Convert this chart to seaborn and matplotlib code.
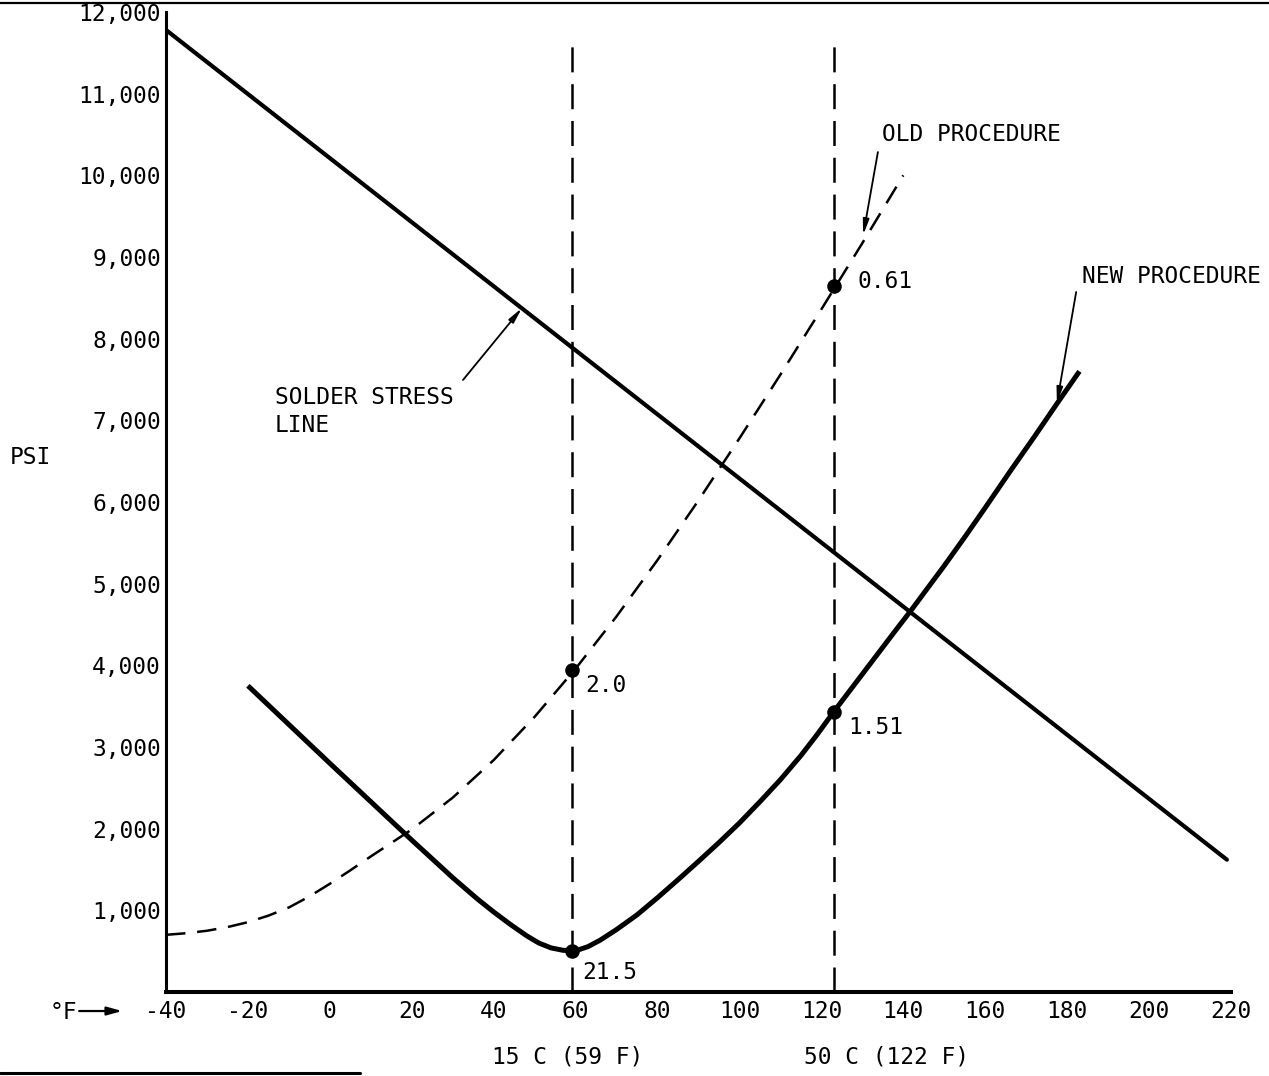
import matplotlib
matplotlib.use("Agg")
import matplotlib.pyplot as plt
import seaborn as sns
import pandas as pd
from matplotlib.lines import Line2D

# ---------------- data ----------------
stress_x = [-40, 219]
stress_y = [11780, 1620]

old_x = [-40, -35, -30, -25, -20, -15, -10, -5, 0, 5, 10, 20, 30, 40, 50, 60, 70, 80, 90,
         100, 110, 120, 130, 140]
old_y = [700, 720, 750, 795, 855, 935, 1035, 1170, 1325, 1490, 1660, 1990, 2380, 2840, 3370,
         3960, 4600, 5290, 6020, 6780, 7560, 8360, 9170, 10000]

new_x = [-20, 0, 20, 30, 36, 40, 44, 48, 51, 54, 57, 60, 63, 66, 70, 75, 80, 85, 90, 95, 100,
         105, 110, 115, 119, 123, 128, 133, 138, 142, 150, 155, 160, 166, 172, 178, 183]
new_y = [3750, 2800, 1860, 1400, 1140, 980, 830, 690, 600, 540, 510, 505, 555, 635, 765, 945,
         1155, 1375, 1600, 1830, 2070, 2330, 2600, 2895, 3155, 3430, 3760, 4090, 4420, 4680,
         5220, 5570, 5930, 6370, 6800, 7240, 7600]

ref_x = [59, 123]            # 15 C (59 F), 50 C (122 F)
ref_top = [11700, 11600]
ref_labels = ["15 C (59 F)", "50 C (122 F)"]

pt_x = [123, 59, 123, 59]
pt_y = [8650, 3940, 3430, 505]
pt_labels = ["0.61", "2.0", "1.51", "21.5"]

xticks = list(range(-40, 221, 20))
yticks = list(range(1000, 12001, 1000))
ytick_labels = [f"{v:,}" for v in yticks]

# ---------------- style ----------------
sns.set_style("white")
plt.rcParams["font.family"] = ["DejaVu Sans Mono", "DejaVu Sans"]
plt.rcParams["text.color"] = "black"
plt.rcParams["lines.scale_dashes"] = False
FS = 16.5

fig = plt.figure(figsize=(12.69, 10.76), dpi=100)
ax = fig.add_axes([166 / 1269, 1 - 992 / 1076, (1231 - 166) / 1269, (992 - 12) / 1076])

df_stress = pd.DataFrame({"x": stress_x, "y": stress_y})
df_old = pd.DataFrame({"x": old_x, "y": old_y})
df_new = pd.DataFrame({"x": new_x, "y": new_y})

sns.lineplot(data=df_stress, x="x", y="y", ax=ax, color="black", lw=3.0,
             estimator=None, sort=False)
sns.lineplot(data=df_old, x="x", y="y", ax=ax, color="black", lw=1.8,
             estimator=None, sort=False)
ax.lines[-1].set_dashes([14, 8.5])
sns.lineplot(data=df_new, x="x", y="y", ax=ax, color="black", lw=3.6,
             estimator=None, sort=False)
ax.lines[-1].set_solid_capstyle("butt")
ax.lines[-1].set_solid_joinstyle("round")

for xv, top in zip(ref_x, ref_top):
    ax.vlines(xv, 0, top, colors="black", lw=1.8, linestyles=(0, (18, 8.5)))

sns.scatterplot(x=pt_x, y=pt_y, ax=ax, color="black", s=110, edgecolor="black",
                linewidth=0, zorder=5)

TXT = dict(fontsize=FS, color="black")

# point labels
lab_pos = [(128.7, 8694), (62.3, 3759), (126.5, 3233), (61.6, 233)]
for (tx, ty), lab in zip(lab_pos, pt_labels):
    ax.text(tx, ty, lab, ha="left", va="center", **TXT)

arrow = dict(arrowstyle="-|>,head_length=0.9,head_width=0.18", color="black", lw=1.3,
             shrinkA=0, shrinkB=0)
ax.annotate("", xy=(46.9, 8375), xytext=(32.5, 7494), arrowprops=arrow)
ax.text(-13.4, 7420, "SOLDER STRESS\nLINE", ha="left", va="top", linespacing=1.25, **TXT)
ax.annotate("", xy=(130.2, 9269), xytext=(133.8, 10285), arrowprops=arrow)
ax.text(134.8, 10494, "OLD PROCEDURE", ha="left", va="center", **TXT)
ax.annotate("", xy=(177.5, 7212), xytext=(182.2, 8571), arrowprops=arrow,
            annotation_clip=False)
ax.text(183.6, 8767, "NEW PROCEDURE", ha="left", va="center", clip_on=False, **TXT)

# reference-temperature labels below the axis
ref_lab_x = [58.1, 136]
for tx, lab in zip(ref_lab_x, ref_labels):
    ax.text(tx, -796, lab, ha="center", va="center", clip_on=False, **TXT)

# axis annotations
ax.text(-73, 6539, "PSI", ha="center", va="center", clip_on=False, **TXT)
ax.text(-68.3, -245, "°F", ha="left", va="center", clip_on=False, **TXT)
ax.annotate("", xy=(-50.7, -233), xytext=(-61.2, -233), annotation_clip=False,
            arrowprops=dict(arrowstyle="-|>,head_length=0.9,head_width=0.25",
                            color="black", lw=1.6, shrinkA=0, shrinkB=0))

# axes
ax.set_xlim(-40, 220)
ax.set_ylim(0, 12000)
ax.set_xticks(xticks)
ax.set_xticklabels([str(v) for v in xticks])
ax.set_yticks(yticks)
ax.set_yticklabels(ytick_labels)
ax.set_xlabel("")
ax.set_ylabel("")
ax.tick_params(axis="both", direction="in", length=21.6, width=1.4, color="black",
               labelsize=FS, labelcolor="black")
ax.tick_params(axis="x", pad=6)
ax.tick_params(axis="y", pad=3.6)
for s in ["top", "right"]:
    ax.spines[s].set_visible(False)
ax.spines["left"].set_linewidth(2.2)
ax.spines["bottom"].set_linewidth(2.9)
ax.spines["left"].set_color("black")
ax.spines["bottom"].set_color("black")

# scan border lines at top and bottom of the page
fig.add_artist(Line2D([0, 1], [1 - 3 / 1076, 1 - 3 / 1076], color="black", lw=1.6))
fig.add_artist(Line2D([0, 360 / 1269], [1 - 1073 / 1076, 1 - 1073 / 1076],
                      color="black", lw=2.2))

fig.savefig("out.png", dpi=100)
